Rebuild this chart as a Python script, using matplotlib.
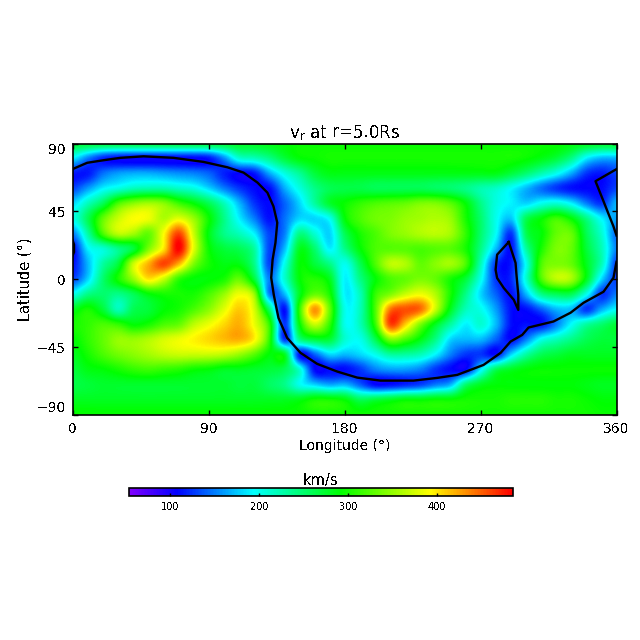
import numpy as np
import matplotlib
matplotlib.use('Agg')
import matplotlib.pyplot as plt
from matplotlib.colors import LinearSegmentedColormap, Normalize

plt.rcParams['font.family'] = ['DejaVu Sans']
plt.rcParams['mathtext.default'] = 'regular'
plt.rcParams['text.antialiased'] = False

vmin, vmax = 53, 485
cmap_vals = [53, 107, 193, 292, 392, 485]
cmap_cols = ['#8200ff', '#0000ff', '#00ffff', '#00ff00', '#ffff00', '#ff0000']

# speed, every 10 deg of longitude (0..360), lat 90 down to -90
v_p90 = [275,275,275,275,275,275,275,275,275,275,275,280,280,285,290,295,295,295,295,295,295,295,295,295,295,295,295,295,295,295,295,295,295,290,285,280,280]
v_p80 = [190,150,120,110,108,108,108,108,108,115,155,210,220,240,270,290,295,300,300,300,300,300,300,300,300,300,300,300,300,300,295,285,270,240,190,170,170]
v_p70 = [115,115,145,160,165,165,160,155,150,140,118,108,115,165,205,235,270,285,285,285,285,285,285,285,285,285,285,285,285,270,250,225,200,165,125,115,130]
v_p60 = [130,160,190,205,220,225,225,215,205,180,150,125,110,110,165,205,240,260,265,265,260,260,260,260,255,250,240,225,215,195,170,145,125,112,108,110,130]
v_p50 = [180,220,260,320,345,355,345,315,290,260,220,170,125,110,140,180,230,275,295,310,320,325,330,340,340,325,290,240,205,190,180,200,210,190,150,125,170]
v_p40 = [200,260,330,370,390,385,360,380,350,295,240,190,150,112,145,180,180,200,290,320,335,340,350,355,360,350,300,250,200,175,260,290,315,290,240,190,160]
v_p30 = [150,230,320,365,355,330,390,460,370,285,240,220,190,130,150,240,210,180,260,300,320,340,350,360,365,355,310,250,195,125,260,290,330,330,260,210,140]
v_p20 = [108,190,210,240,270,340,400,485,380,295,270,260,230,130,170,280,250,190,240,290,320,325,325,320,325,325,300,240,170,112,230,300,340,330,270,220,150]
v_p10 = [112,170,230,270,370,420,460,420,340,300,285,285,240,130,200,290,270,240,200,260,320,365,360,330,345,355,320,220,125,115,200,320,340,330,280,220,125]
v_000 = [130,180,250,300,350,400,370,310,290,290,300,330,270,150,210,290,305,280,190,240,290,320,330,340,330,300,270,200,125,120,210,320,365,355,280,180,125]
v_m10 = [200,240,250,240,260,290,300,300,300,320,350,385,350,150,170,280,330,300,190,220,310,340,370,385,360,300,240,180,140,112,170,240,260,260,200,125,150]
v_m20 = [280,300,270,220,260,270,290,300,320,345,380,410,375,250,112,310,430,330,200,220,320,440,455,445,370,280,220,200,160,112,112,140,170,170,125,165,195]
v_m30 = [300,310,320,310,290,300,320,330,365,385,405,420,385,310,125,290,370,310,200,220,310,460,410,340,280,230,190,210,170,112,112,112,150,195,230,250,270]
v_m40 = [290,310,330,350,350,360,375,385,395,405,415,420,395,310,125,240,270,270,210,200,260,340,320,285,240,180,170,170,140,110,150,200,220,240,260,270,270]
v_m50 = [280,300,320,335,345,355,365,370,370,370,365,350,325,290,280,112,140,180,170,180,200,230,230,220,190,150,125,125,112,180,230,260,270,280,280,280,280]
v_m60 = [270,285,290,300,310,315,310,305,295,290,280,280,275,270,260,210,110,112,110,125,150,160,160,150,125,110,110,190,260,280,290,295,295,295,295,295,295]
v_m70 = [265,270,275,275,275,275,275,275,275,275,275,270,270,255,240,200,180,165,170,140,110,112,120,130,150,170,250,280,290,290,290,290,290,290,285,280,280]
v_m80 = [280,280,280,280,280,280,280,280,280,280,280,280,280,280,280,285,300,300,290,260,270,280,290,290,295,295,300,300,300,305,305,305,300,300,295,290,290]
v_m90 = [295,295,295,295,295,295,295,295,295,295,295,295,295,295,295,295,298,298,298,298,298,298,298,298,298,298,298,298,298,298,298,298,298,298,298,295,295]

# black contour pieces, (lon, lat)
main_lon = [0,9.7,20.5,31.8,47,66.8,86.7,102.6,113.2,122.4,129,133,135.5,134.3,132.4,131.5,133.2,136.3,142,150.9,161.9,175.2,188.4,203.8,225.7,241.4,254.6,272,283.3,289.9,297.6,301.8,318.3,329.6,338.2,351.4,358,360]
main_lat = [73,77.2,78.9,80.5,81.5,80.5,77.8,74.2,70.7,64.1,57.4,48.3,37.5,24.2,12.9,1,-10.3,-25.6,-38.8,-48.8,-56.1,-61.2,-65.2,-67.2,-67.2,-65.4,-63.4,-56.8,-48.8,-41.3,-36.9,-32,-28,-22.2,-15.6,-8.3,1,11.6]
right_lon = [360,346.1,351.4,358,360]
right_lat = [73,65,51.7,35,29]
left_lon = [0,1,1,0]
left_lat = [26,23,18,15.6]
loop_lon = [288.7,281,280,281,285.4,292,295,295,293.8,293.2,288.7]
loop_lat = [24.7,16.3,6.3,0.8,-5.8,-13.6,-20.3,-10.3,3,10.8,24.7]

xticks = [0, 90, 180, 270, 360]
yticks = [-90, -45, 0, 45, 90]
cbar_ticks = [100, 200, 300, 400]

grid = np.array([v_p90, v_p80, v_p70, v_p60, v_p50, v_p40, v_p30, v_p20, v_p10, v_000,
                 v_m10, v_m20, v_m30, v_m40, v_m50, v_m60, v_m70, v_m80, v_m90], dtype=float)

pos = [(v - vmin) / (vmax - vmin) for v in cmap_vals]
cmap = LinearSegmentedColormap.from_list('idl', list(zip(pos, cmap_cols)), N=256)
norm = Normalize(vmin, vmax)

fig = plt.figure(figsize=(6.4, 6.4), dpi=100)
ax = fig.add_axes([72.5/640, 1 - 415/640, 544/640, 271.5/640])
im = ax.imshow(grid, extent=[-5, 365, -95, 95], aspect='auto', cmap=cmap, norm=norm,
               interpolation='catrom', origin='upper')
for lo, la in [(main_lon, main_lat), (right_lon, right_lat), (left_lon, left_lat), (loop_lon, loop_lat)]:
    ax.plot(lo, la, color='k', lw=1.7, solid_joinstyle='round', clip_on=True)
ax.set_xlim(0, 360)
ax.set_ylim(-90, 90)
ax.set_xticks(xticks)
ax.set_yticks(yticks)
ax.tick_params(direction='in', top=True, right=True, length=3.5, width=1, labelsize=10, pad=5)
# end labels sit inside the axis range
ax.get_yticklabels()[0].set_va('bottom')
ax.get_yticklabels()[-1].set_va('top')
for s in ax.spines.values():
    s.set_linewidth(1.2)
ax.set_xlabel('Longitude (°)', fontsize=10, labelpad=2)
ax.set_ylabel('Latitude (°)', fontsize=10.5, labelpad=3)
ax.set_title('v$_r$ at r=5.0Rs', fontsize=12, pad=4)

cax = fig.add_axes([128.5/640, 1 - 495.5/640, 384/640, 8/640])
cb = fig.colorbar(im, cax=cax, orientation='horizontal')
cb.set_ticks(cbar_ticks)
cax.tick_params(direction='in', length=2, width=1, labelsize=7, pad=5)
cb.outline.set_linewidth(1.2)
cax.set_title('km/s', fontsize=10.5, pad=2)

fig.savefig('out.png', dpi=100)
